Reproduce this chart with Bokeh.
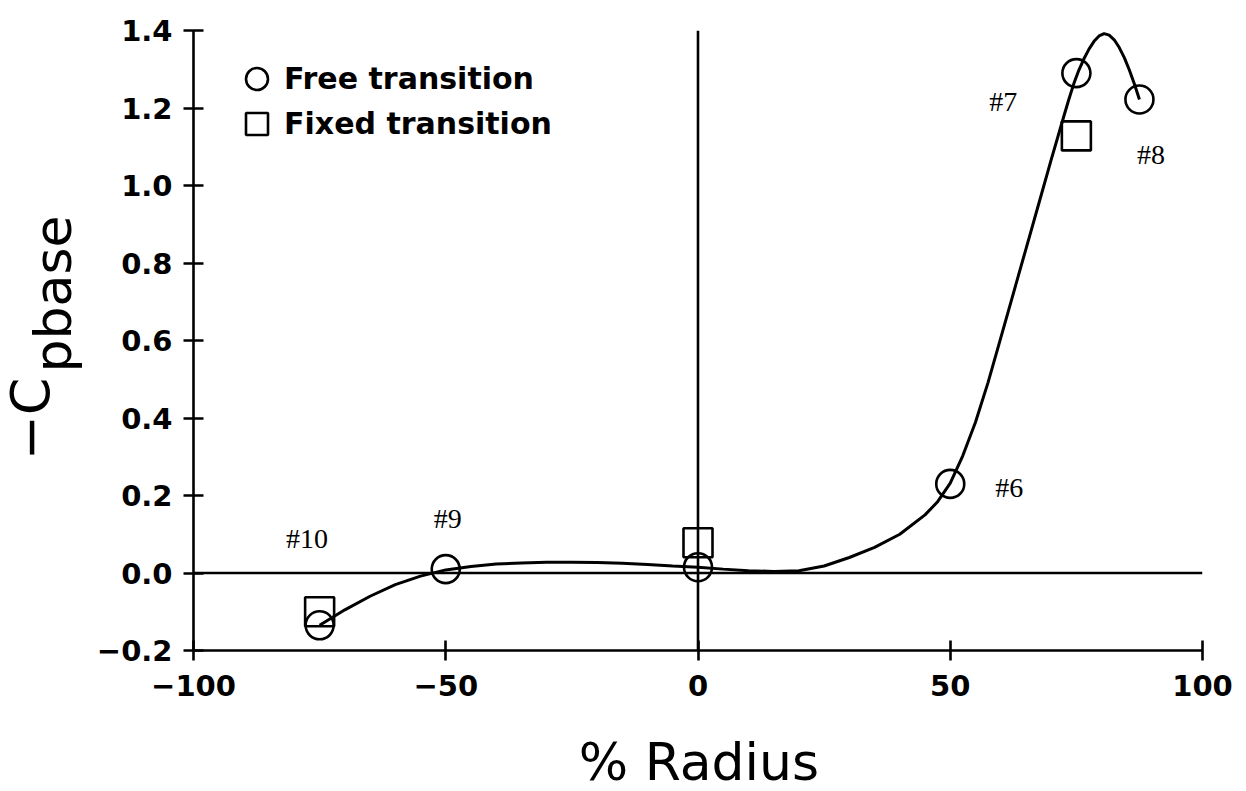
import math
from bokeh.plotting import figure
from bokeh.layouts import row, column
from bokeh.models import (Range1d, FixedTicker, Span, Legend, LegendItem,
                          ColumnDataSource)
from bokeh.core.properties import value
from bokeh.embed import file_html
from bokeh.resources import INLINE

# ---- data ----
free_x = [-75, -50, 0, 50, 75, 87.5]
free_y = [-0.135, 0.010, 0.015, 0.230, 1.290, 1.222]

fixed_x = [-75, 0, 75]
fixed_y = [-0.100, 0.078, 1.128]

curve_x = [-75, -70, -65, -60, -55, -50, -45, -40, -35, -30, -25, -20, -15, -10, -5,
           0, 5, 10, 15, 20, 25, 30, 35, 40, 45, 47.5, 50, 52.5, 55, 57.5, 60, 62.5,
           65, 67.5, 70, 72.5, 73.5, 74.5, 75.5, 76.5, 77.5, 78.5, 79.5, 80.5, 81.5,
           82.5, 83.5, 84.5, 85.5, 86.5, 87.5]
curve_y = [-0.135, -0.095, -0.060, -0.030, -0.008, 0.008, 0.017, 0.023, 0.026, 0.028,
           0.028, 0.027, 0.025, 0.022, 0.018, 0.015, 0.010, 0.006, 0.004, 0.006,
           0.018, 0.040, 0.066, 0.100, 0.150, 0.184, 0.232, 0.303, 0.389, 0.492,
           0.606, 0.721, 0.836, 0.951, 1.066, 1.178, 1.222, 1.263, 1.298, 1.327,
           1.352, 1.372, 1.386, 1.392, 1.388, 1.376, 1.356, 1.330, 1.298, 1.262,
           1.222]

run_labels = ["#10", "#9", "#6", "#7", "#8"]
run_label_x = [-77.5, -49.6, 61.7, 60.5, 89.8]
run_label_y = [0.09, 0.14, 0.22, 1.216, 1.08]

x_ticks = [-100, -50, 0, 50, 100]
x_tick_labels = ["\u2212100", "\u221250", "0", "50", "100"]
y_ticks = [-0.2, 0.0, 0.2, 0.4, 0.6, 0.8, 1.0, 1.2, 1.4]
y_tick_labels = ["\u22120.2", "0.0", "0.2", "0.4", "0.6", "0.8", "1.0", "1.2", "1.4"]

x_title = "% Radius"
y_title_main = "\u2212C"
y_title_sub = "pbase"
legend_labels = ["Free transition", "Fixed transition"]

SANS = "DejaVu Sans"
SERIF = "Liberation Serif"
LW = 2.6

TOTAL_W, TOTAL_H = 1240, 790
YLAB_W = 90
MAIN_H = 720

# ---------------- main plot ----------------
p = figure(width=TOTAL_W - YLAB_W, height=MAIN_H, output_backend="svg",
           toolbar_location=None,
           x_range=Range1d(-100, 100), y_range=Range1d(-0.2, 1.4),
           min_border_left=103, min_border_right=38, min_border_top=30,
           min_border_bottom=70)
p.outline_line_color = None
p.xgrid.visible = False
p.ygrid.visible = False

for ax, ticks, labels in ((p.xaxis[0], x_ticks, x_tick_labels),
                          (p.yaxis[0], y_ticks, y_tick_labels)):
    ax.ticker = FixedTicker(ticks=ticks, minor_ticks=[])
    ax.major_label_overrides = {t: l for t, l in zip(ticks, labels)}
    ax.axis_line_width = LW
    ax.axis_line_color = "black"
    ax.major_tick_line_width = LW
    ax.major_tick_line_color = "black"
    ax.major_tick_in = 10
    ax.major_tick_out = 10
    ax.minor_tick_line_color = None
    ax.major_label_text_font = SANS
    ax.major_label_text_font_style = "bold"
    ax.major_label_text_font_size = "29px"
    ax.major_label_text_color = "black"
p.xaxis.major_label_standoff = 14
p.yaxis.major_label_standoff = 11

p.add_layout(Span(location=0, dimension="height", line_color="black", line_width=LW))
p.add_layout(Span(location=0, dimension="width", line_color="black", line_width=LW))

p.line(curve_x, curve_y, line_color="black", line_width=3)

r_free = p.scatter(free_x, free_y, marker="circle", size=28, fill_color=None,
                   line_color="black", line_width=LW)
r_fixed = p.scatter(fixed_x, fixed_y, marker="square", size=29, fill_color=None,
                    line_color="black", line_width=LW)

src = ColumnDataSource(dict(x=run_label_x, y=run_label_y, t=run_labels))
p.text(x="x", y="y", text="t", source=src, text_font=value(SERIF),
       text_font_size="28px", text_align="center", text_baseline="middle",
       text_color="black")

for lab, rend, loc in ((legend_labels[0], r_free, (36, 544)),
                       (legend_labels[1], r_fixed, (36, 499))):
    lg = Legend(items=[LegendItem(label=lab, renderers=[rend])],
                location=loc, glyph_width=55, glyph_height=55, spacing=0,
                padding=0, margin=0, label_standoff=0,
                label_text_font=SANS, label_text_font_style="bold",
                label_text_font_size="30px", label_text_color="black",
                border_line_color=None, background_fill_alpha=0)
    p.add_layout(lg)


def blank(w, h):
    f = figure(width=w, height=h, output_backend="svg", toolbar_location=None,
               x_range=Range1d(0, w), y_range=Range1d(0, h),
               x_axis_location=None, y_axis_location=None,
               min_border=0, min_border_left=0, min_border_right=0,
               min_border_top=0, min_border_bottom=0)
    f.outline_line_color = None
    f.grid.visible = False
    return f


# y title (rotated, with lowered subscript)
ylab = blank(YLAB_W, TOTAL_H)
ylab.text(x=[30], y=[330], text=[y_title_main], angle=math.pi / 2,
          text_font=value(SANS), text_font_size="54px", text_align="left",
          text_baseline="alphabetic", text_color="black")
ylab.text(x=[52], y=[418], text=[y_title_sub], angle=math.pi / 2,
          text_font=value(SANS), text_font_size="52px", text_align="left",
          text_baseline="alphabetic", text_color="black")

# x title
xlab = blank(TOTAL_W - YLAB_W, TOTAL_H - MAIN_H)
xlab.text(x=[576], y=[29], text=[x_title], text_font=value(SANS),
          text_font_size="52px", text_align="center",
          text_baseline="alphabetic", text_color="black")

layout = row(ylab, column(p, xlab, spacing=0), spacing=0)

open("out.html", "w").write(file_html(layout, INLINE))
